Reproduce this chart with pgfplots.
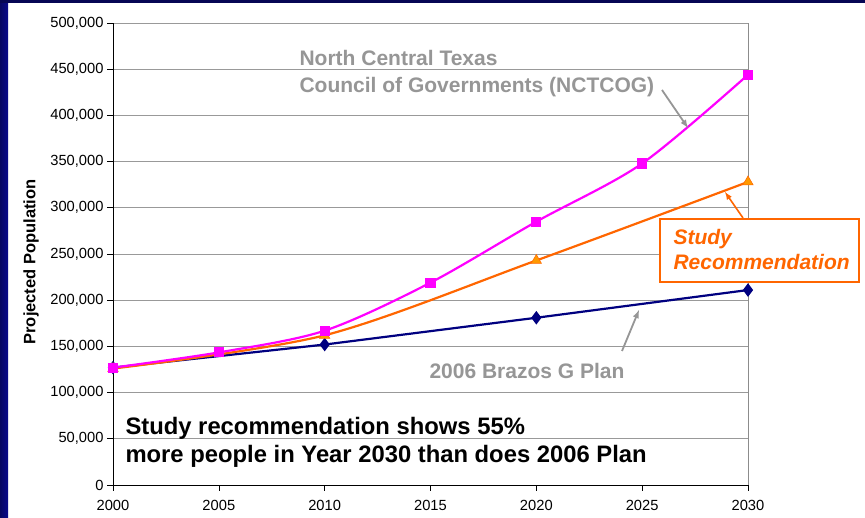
\documentclass[border=0pt]{standalone}
\usepackage{fontspec}
\setmainfont{Liberation Sans}
\usepackage{pgfplots}
\pgfplotsset{compat=1.18}
\definecolor{navyline}{RGB}{0,0,128}
\definecolor{magline}{RGB}{255,0,255}
\definecolor{orgline}{RGB}{255,102,0}
\definecolor{lblgray}{RGB}{150,150,150}
\definecolor{slideblue}{RGB}{10,10,140}

\begin{document}
\begin{tikzpicture}[x=1pt,y=1pt]
\useasboundingbox (0,0) rectangle (865,518);
\fill[white] (0,0) rectangle (865,518);
% slide background edges
\shade[left color=slideblue!70!black, right color=slideblue] (0,0) rectangle (8,518);
\fill[slideblue!60!black] (0,515) rectangle (865,518);

\begin{axis}[
    at={(113pt,33pt)}, anchor=south west,
    scale only axis,
    width=635pt, height=462pt,
    xmin=2000, xmax=2030,
    ymin=0, ymax=500000,
    xtick={2000,2005,...,2030},
    ytick={0,50000,...,500000},
    axis x line*=bottom,
    axis y line*=left,
    axis line style={black, line width=0.8pt},
    tick align=outside,
    major tick length=6pt,
    tick style={black, line width=0.6pt},
    ymajorgrids,
    major grid style={gray!80, line width=0.9pt},
    scaled y ticks=false,
    x tick label style={/pgf/number format/.cd, 1000 sep={}, assume math mode=true},
    y tick label style={/pgf/number format/.cd, fixed, 1000 sep={,}, assume math mode=true},
    tick label style={font=\fontsize{14.7}{16}\selectfont},
    xticklabel shift=6pt,
    clip=false,
]
% 2006 Brazos G Plan
\addplot[navyline, line width=2.2pt, mark=diamond*, mark size=5pt, mark options={fill=navyline}]
coordinates {(2000,127000) (2010,152000) (2020,181000) (2030,211000)};
% Study Recommendation
\addplot[orgline, line width=2.2pt, smooth, mark=triangle*, mark size=6pt, mark options={fill=orange!80!yellow, draw=orgline, line width=0.5pt}]
coordinates {(2000,126000) (2010,162000) (2020,243000) (2030,328000)};
% NCTCOG
\addplot[magline, line width=2.2pt, smooth, mark=square*, mark size=4pt, mark options={fill=magline}]
coordinates {(2000,127000) (2005,143500) (2010,167000) (2015,219000) (2020,285000) (2025,348000) (2030,444000)};
\draw[gray!90, line width=0.8pt] (rel axis cs:1,0) -- (rel axis cs:1,1);
\end{axis}

% y label
\node[rotate=90, font=\fontsize{16.5}{18}\bfseries\selectfont] at (31,256) {Projected Population};

% annotations
\node[anchor=base west, text=lblgray, font=\fontsize{21}{24}\bfseries\selectfont] at (296,452) {North Central Texas};
\node[anchor=base west, text=lblgray, font=\fontsize{21}{24}\bfseries\selectfont] at (296,425) {Council of Governments (NCTCOG)};
\draw[lblgray, line width=1.8pt, -latex] (662,428) -- (688,390);

\draw[orgline, line width=1.6pt, fill=white] (660,236) rectangle (859,299);
\node[anchor=base west, text=orgline, font=\fontsize{21}{24}\bfseries\itshape\selectfont] at (670,273) {Study};
\node[anchor=base west, text=orgline, font=\fontsize{21}{24}\bfseries\itshape\selectfont] at (670,248) {Recommendation};
\draw[orgline, line width=1.6pt, -latex] (743,300) -- (725,326);

\node[anchor=base west, text=lblgray, font=\fontsize{21}{24}\bfseries\selectfont] at (426,139) {2006 Brazos G Plan};
\draw[lblgray, line width=1.8pt, -latex] (622,167) -- (639,208);

\node[anchor=base west, font=\fontsize{23.8}{26}\bfseries\selectfont] at (122,83) {Study recommendation shows 55\%};
\node[anchor=base west, font=\fontsize{23.8}{26}\bfseries\selectfont] at (122,55) {more people in Year 2030 than does 2006 Plan};
\end{tikzpicture}
\end{document}
